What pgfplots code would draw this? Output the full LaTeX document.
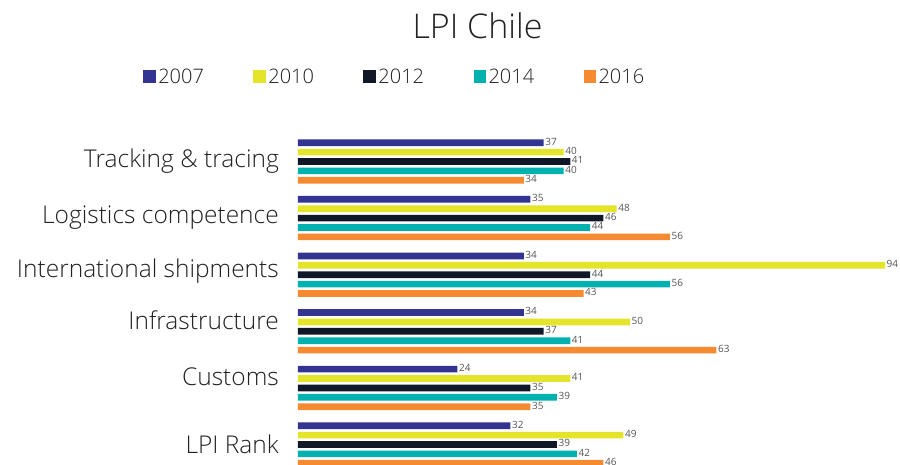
\documentclass[border=0pt]{standalone}
\usepackage{pgfplots}
\pgfplotsset{compat=1.18}
\usepackage{pgfplotstable}
\usepackage{fontspec}
\setmainfont{Open Sans Light}
\newfontfamily\valfont{Open Sans}
\definecolor{c07}{RGB}{51,51,145}
\definecolor{c10}{RGB}{228,228,42}
\definecolor{c12}{RGB}{16,24,40}
\definecolor{c14}{RGB}{0,177,176}
\definecolor{c16}{RGB}{245,138,48}
\definecolor{txt}{RGB}{34,34,34}
\definecolor{val}{RGB}{85,85,85}

\pgfplotstableread{
cat v07 v10 v12 v14 v16
0 37 40 41 40 34
1 35 48 46 44 56
2 34 94 44 56 43
3 34 50 37 41 63
4 24 41 35 39 35
5 32 49 39 42 46
}\lpi

\begin{document}
\begin{tikzpicture}
\begin{axis}[
 name=ax,
 scale only axis, width=587bp, height=335bp,
 xbar, bar width=0.118,
 xmin=0, xmax=88.4, ymin=-0.5565, ymax=5.362, y dir=reverse,
 enlargelimits=false,
 /pgf/number format/assume math mode=true,
 x filter/.expression={min(x,88.4)},
 axis line style={draw=none}, major tick length=0pt,
 xtick=\empty,
 ytick={-0.044,0.94,1.894,2.818,3.807,5.0},
 yticklabels={Tracking \& tracing, Logistics competence, International shipments, Infrastructure, Customs, LPI Rank},
 yticklabel style={font=\fontsize{24.5bp}{29bp}\selectfont, text=txt, anchor=base east, inner sep=0pt, xshift=-19bp, yshift=-8.75bp},
 title={LPI Chile},
 title style={at={(axis description cs:0.3058,1.2736)}, anchor=base, yshift=-6pt, inner sep=0pt, font=\fontsize{34bp}{40bp}\selectfont, text=txt},
 legend columns=5,
 legend cell align=left,
 legend style={draw=none, fill=none, at={(axis description cs:-0.2635,1.1597)}, anchor=west, inner sep=0pt, outer sep=0pt, font=\fontsize{20bp}{24bp}\selectfont, text=txt, nodes={inner sep=0pt}, /tikz/every odd column/.append style={column sep=2.6bp}, /tikz/every even column/.append style={column sep=49.4bp}},
 legend image code/.code={\fill[#1] (0bp,-6.2bp) rectangle (12.4bp,6.2bp);},
 nodes near coords, point meta=explicit,
 nodes near coords style={font=\valfont\fontsize{10bp}{12bp}\selectfont, text=val, anchor=west, inner sep=1.5bp, yshift=1.2bp},
]
\addplot[fill=c07, draw=none, bar shift=-0.332] table[x=v07, y=cat, meta=v07] \lpi;
\addlegendentry{2007}
\addplot[fill=c10, draw=none, bar shift=-0.166] table[x=v10, y=cat, meta=v10] \lpi;
\addlegendentry{2010}
\addplot[fill=c12, draw=none, bar shift=0] table[x=v12, y=cat, meta=v12] \lpi;
\addlegendentry{2012}
\addplot[fill=c14, draw=none, bar shift=0.166] table[x=v14, y=cat, meta=v14] \lpi;
\addlegendentry{2014}
\addplot[fill=c16, draw=none, bar shift=0.332] table[x=v16, y=cat, meta=v16] \lpi;
\addlegendentry{2016}
\end{axis}
\pgfresetboundingbox
\path ([xshift=-298bp]ax.south west) rectangle ([xshift=602bp,yshift=465bp]ax.south west);
\end{tikzpicture}
\end{document}
